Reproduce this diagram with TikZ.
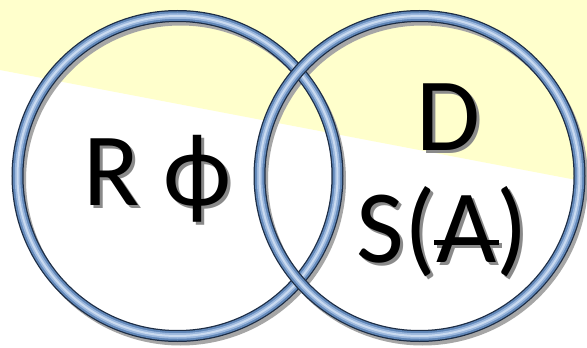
\documentclass[tikz,border=0pt]{standalone}
\usepackage{fontspec}
\setmainfont{Carlito}
\definecolor{bgyellow}{HTML}{FFFFCC}
\definecolor{ringdark}{HTML}{1C2C44}
\definecolor{ringmid}{HTML}{6187B8}
\definecolor{ringlight}{HTML}{9BB7DD}
\definecolor{ringhi}{HTML}{C9DAF0}
\definecolor{shadowgray}{HTML}{A6A6A6}
\definecolor{textshadow}{HTML}{8A8A8A}
\newcommand\strikeA{\rlap{\kern-0.02em\rule[0.165em]{0.62em}{0.05em}}A}
\newcommand\shadowed[1]{\leavevmode\rlap{\kern3pt\raisebox{-3pt}{\textcolor{textshadow}{#1}}}#1}
\begin{document}
\begin{tikzpicture}[x=1pt,y=-1pt,
  ring/.style={circle, inner sep=0pt, minimum size=320pt, draw=ringdark, line width=12pt,
    postaction={draw=ringmid, line width=9.5pt},
    postaction={draw=ringlight, line width=5.5pt},
    postaction={draw=ringhi, line width=2pt}},
  ringshade/.style={circle, inner sep=0pt, minimum size=320pt, draw=shadowgray, line width=11pt},
  big/.style={inner sep=0pt, anchor=base, text=black, font=\fontsize{104}{120}\selectfont}]
\fill[white] (0,0) rectangle (587,348);
\fill[bgyellow] (0,0) -- (587,0) -- (587,182) -- (0,70) -- cycle;
\useasboundingbox (0,0) rectangle (587,348);
% ring shadows
\node[ringshade] (Lshade) at (180.5,180) {};
\node[ringshade] (Rshade) at (422.5,180) {};
% rings
\node[ring] (L) at (177.5,176) {};
\node[ring] (R) at (419.5,176) {};
% texts
\node[big] (rphi) at (157.5,205) {\shadowed{R ϕ}};
\node[big] (d) at (448.5,150) {\shadowed{D}};
\node[big] (sa) at (442.5,262) {\shadowed{S(\strikeA)}};
\end{tikzpicture}
\end{document}
